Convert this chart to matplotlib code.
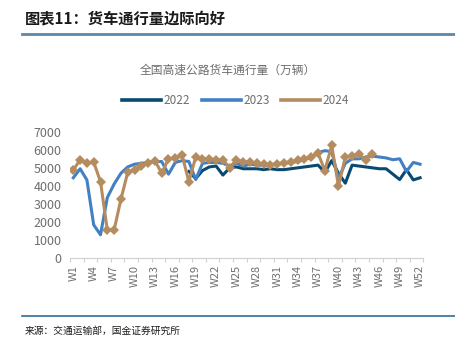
import matplotlib
matplotlib.use("Agg")
import matplotlib.pyplot as plt
from matplotlib.lines import Line2D
import numpy as np

plt.rcParams['font.family'] = ['Noto Sans CJK SC', 'DejaVu Sans']

weeks = list(range(1, 53))
tick_weeks = list(range(1, 53, 3))
tick_labels = [f"W{w}" for w in tick_weeks]

# 2022 series starts at W18
w2022 = list(range(18, 53))
v2022 = [4800, 4400, 4850, 5050, 5100, 4600, 5000, 5050, 4950, 4950,
         4950, 4900, 4950, 4900, 4900, 4950, 5000, 5050, 5100, 5150,
         4750, 5400, 4700, 4150, 5150, 5100, 5050, 5000, 4950, 4950,
         4650, 4350, 4900, 4330, 4450]

v2023 = [4450, 4950, 4330, 1840, 1290, 3350, 4100, 4700, 5050, 5200,
         5250, 5300, 5350, 5350, 4650, 5300, 5400, 5350, 4350, 5250,
         5300, 5300, 5250, 5100, 5250, 5100, 5200, 5150, 5150, 5150,
         5200, 5250, 5300, 5350, 5450, 5600, 5850, 5950, 5900, 4400,
         5250, 5500, 5500, 5600, 5650, 5600, 5550, 5450, 5500, 4800,
         5300, 5200]

w2024 = list(range(1, 46))
v2024 = [4880, 5450, 5250, 5320, 4230, 1560, 1560, 3250, 4750, 4900,
         5100, 5250, 5400, 4700, 5500, 5550, 5700, 4230, 5600, 5500,
         5500, 5450, 5450, 5000, 5450, 5340, 5300, 5250, 5200, 5180,
         5220, 5280, 5340, 5420, 5500, 5600, 5800, 4850, 6250, 3980,
         5600, 5650, 5750, 5450, 5750]

c2022 = '#0B4A70'
c2023 = '#4280C4'
c2024 = '#B48C5F'

fig = plt.figure(figsize=(4.56, 3.40), dpi=100)
ax = fig.add_axes([0.1533, 0.241, 0.7754, 0.3715])

ax.plot(w2022, v2022, color=c2022, lw=2.2, solid_joinstyle='round', zorder=2)
ax.plot(weeks, v2023, color=c2023, lw=2.2, solid_joinstyle='round', zorder=3)
ax.plot(w2024, v2024, color=c2024, lw=2.2, marker='D', markersize=5.6,
        markeredgewidth=0, zorder=4)

ax.set_xlim(0.5, 52.5)
ax.set_ylim(0, 7000)
ax.set_yticks(range(0, 7001, 1000))
ax.set_xticks(tick_weeks)
ax.set_xticklabels(tick_labels, rotation=90)
ax.set_xticks(np.arange(0.5, 53, 2), minor=True)
ax.tick_params(axis='x', which='major', length=0, pad=5, labelsize=8, labelcolor='#6E6E6E')
ax.tick_params(axis='x', which='minor', length=3, color='#D0D0D0', width=0.8)
ax.tick_params(axis='y', length=0, pad=6, labelsize=9, labelcolor='#6E6E6E')
for s in ['top', 'right', 'left']:
    ax.spines[s].set_visible(False)
ax.spines['bottom'].set_color('#D0D0D0')
ax.spines['bottom'].set_linewidth(0.8)

handles = [Line2D([], [], color=c2022, lw=2.6),
           Line2D([], [], color=c2023, lw=2.6),
           Line2D([], [], color=c2024, lw=2.6)]
fig.legend(handles, ['2022', '2023', '2024'], loc='center', bbox_to_anchor=(0.517, 0.703),
           ncol=3, frameon=False, fontsize=8.5, handlelength=3.3, handletextpad=0.2,
           columnspacing=1.0, labelcolor='#6E6E6E')

fig.text(0.5, 0.793, '全国高速公路货车通行量（万辆）', ha='center', va='center',
         fontsize=8.5, color='#6E6E6E')

fig.text(0.055, 0.947, '图表11：货车通行量边际向好', ha='left', va='center',
         fontsize=11, fontweight='bold', color='#1A1A1A', style='italic')
fig.add_artist(Line2D([0.048, 1.0], [0.9, 0.9], color='#5A88A8', lw=2.0,
                      transform=fig.transFigure))
fig.add_artist(Line2D([0.048, 1.0], [0.071, 0.071], color='#2F6E99', lw=1.2,
                      transform=fig.transFigure))
fig.text(0.055, 0.028, '来源：交通运输部，国金证券研究所', ha='left', va='center',
         fontsize=7, color='#1A1A1A')

fig.savefig('out.png', dpi=100)
